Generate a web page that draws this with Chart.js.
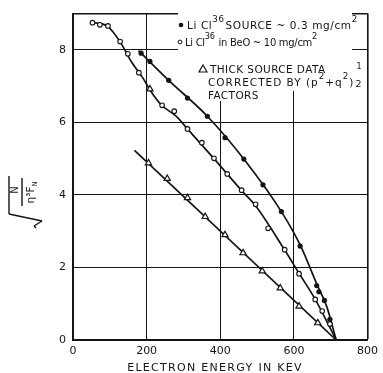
<!DOCTYPE html>
<html>
<head>
<meta charset="utf-8">
<script src="https://cdn.jsdelivr.net/npm/chart.js@4.4.0/dist/chart.umd.min.js"></script>
<style>
  html, body { margin: 0; padding: 0; background: #fff; }
  #wrap { width: 383px; height: 373px; position: relative; }
</style>
</head>
<body>
<div id="wrap"><canvas id="betaChart"></canvas></div>
<script>
// measured points: electron energy (keV) vs sqrt(N / eta^3 F)
const thinEnergy = [185, 209, 260, 311, 365, 413, 464, 516, 566, 617, 662, 668, 683, 698];
const thinValue  = [7.91, 7.68, 7.16, 6.67, 6.17, 5.58, 4.99, 4.28, 3.54, 2.59, 1.50, 1.33, 1.09, 0.57];

const beoEnergy = [53, 73, 95, 128, 149, 179, 242, 275, 311, 350, 383, 419, 458, 496, 530, 575, 614, 658, 677, 698];
const beoValue  = [8.75, 8.69, 8.66, 8.23, 7.89, 7.37, 6.47, 6.31, 5.82, 5.44, 5.01, 4.58, 4.13, 3.74, 3.08, 2.49, 1.83, 1.12, 0.80, 0.44];

const thickEnergy = [209, 205, 256, 311, 359, 413, 462, 514, 563, 614, 665];
const thickValue  = [6.92, 4.88, 4.45, 3.92, 3.40, 2.90, 2.40, 1.90, 1.43, 0.93, 0.47];

// hand drawn curves through the points
const thinCurveE  = [178, 260, 365, 464, 566, 617, 662, 690, 715];
const thinCurveV  = [7.98, 7.16, 6.17, 4.99, 3.54, 2.62, 1.55, 0.90, 0];
const beoCurveE   = [53, 95, 128, 160, 190, 210, 240, 280, 311, 383, 458, 496, 575, 614, 658, 715];
const beoCurveV   = [8.76, 8.64, 8.22, 7.65, 7.22, 6.88, 6.48, 6.17, 5.82, 5.00, 4.12, 3.70, 2.48, 1.84, 1.12, 0];
const thickCurveE = [167, 715];
const thickCurveV = [5.23, 0];

const xTicks = [0, 200, 400, 600, 800];
const yTicks = [0, 2, 4, 6, 8, 9];

const INK = '#141414';
const FONT = '"DejaVu Sans", sans-serif';

function pts(xs, ys) {
  return xs.map((x, i) => ({ x: x, y: ys[i] }));
}

function line(ctx, x1, y1, x2, y2) {
  ctx.beginPath();
  ctx.moveTo(x1, y1);
  ctx.lineTo(x2, y2);
  ctx.stroke();
}

// draw a row of text pieces, some of them raised (superscript)
function runs(ctx, parts, x, y, size, spacing) {
  ctx.letterSpacing = spacing + 'px';
  parts.forEach(p => {
    const s = p.sup ? size - 1.8 : size;
    ctx.font = s + 'px ' + FONT;
    ctx.fillText(p.t, x, p.sup ? y - 7 : y);
    x += ctx.measureText(p.t).width + (p.gap || 0);
  });
  return x;
}

const paperPlugin = {
  id: 'paper',
  beforeDatasetsDraw(chart) {
    // the legend sits on a clean patch of paper
    const ctx = chart.ctx;
    ctx.save();
    ctx.fillStyle = '#fff';
    ctx.fillRect(178, 11, 174, 80);
    ctx.fillRect(214, 91, 16, 10);
    ctx.restore();
  },
  afterDraw(chart) {
    const ctx = chart.ctx;
    ctx.save();
    ctx.fillStyle = INK;
    ctx.strokeStyle = INK;
    ctx.textBaseline = 'alphabetic';
    ctx.textAlign = 'left';

    // legend
    ctx.beginPath(); ctx.arc(181, 25, 2.3, 0, Math.PI * 2); ctx.fill();
    runs(ctx, [{ t: 'Li Cl' }, { t: '36', sup: true, gap: 1 }, { t: 'SOURCE ~ 0.3 mg/cm' }, { t: '2', sup: true }], 187, 29, 10.5, 0.6);

    ctx.lineWidth = 1;
    ctx.beginPath(); ctx.arc(180, 42, 1.9, 0, Math.PI * 2); ctx.stroke();
    runs(ctx, [{ t: 'Li Cl' }, { t: '36', sup: true, gap: 4 }, { t: 'in BeO ~ 10 mg/cm' }, { t: '2', sup: true }], 185, 46, 10, -0.3);

    ctx.lineWidth = 1.2;
    ctx.beginPath();
    ctx.moveTo(203, 65); ctx.lineTo(207, 72); ctx.lineTo(199, 72); ctx.closePath();
    ctx.stroke();
    runs(ctx, [{ t: 'THICK SOURCE DATA' }], 210, 73, 10.5, 0.4);
    const end = runs(ctx, [{ t: 'CORRECTED BY (p' }, { t: '2', sup: true }, { t: '+q' }, { t: '2', sup: true }, { t: ')' }], 208, 86, 10.5, 1.0);
    ctx.letterSpacing = '0px';
    ctx.font = '8px ' + FONT;
    ctx.fillText('1', end + 2, 69);
    ctx.font = '9.5px ' + FONT;
    ctx.fillText('2', end + 1, 87);
    runs(ctx, [{ t: 'FACTORS' }], 208, 99, 10.5, 0.4);

    // x axis title
    ctx.font = '11px ' + FONT;
    ctx.letterSpacing = '1.3px';
    ctx.textAlign = 'center';
    ctx.fillText('ELECTRON ENERGY IN KEV', 215, 371);

    // y axis title: sqrt(N / eta^3 F_N), written sideways
    ctx.letterSpacing = '0px';
    ctx.translate(28, 198);
    ctx.rotate(-Math.PI / 2);
    ctx.lineWidth = 1.4;
    ctx.font = '10px ' + FONT;
    ctx.fillText('N', 8, -10);
    line(ctx, -8, -6, 20, -6);
    ctx.font = '10.5px ' + FONT;
    ctx.fillText('\u03B7\u00B3F', 3, 6);
    ctx.font = '7px ' + FONT;
    ctx.fillText('N', 14, 9);
    line(ctx, -16, -19, 22, -19);
    line(ctx, -16, -19, -23, 14);
    line(ctx, -23, 14, -28, 6);
    line(ctx, -28, 6, -30, 8);
    ctx.restore();
  }
};

const chart = new Chart(document.getElementById('betaChart').getContext('2d'), {
  type: 'scatter',
  data: {
    datasets: [
      { label: 'LiCl36 source', data: pts(thinEnergy, thinValue), pointStyle: 'circle', pointRadius: 2.6, backgroundColor: INK, borderColor: INK, borderWidth: 0 },
      { label: 'LiCl36 in BeO', data: pts(beoEnergy, beoValue), pointStyle: 'circle', pointRadius: 2.3, backgroundColor: '#fff', borderColor: INK, borderWidth: 1.1 },
      { label: 'thick source', data: pts(thickEnergy, thickValue), pointStyle: 'triangle', pointRadius: 3.6, backgroundColor: '#fff', borderColor: INK, borderWidth: 1.2 },
      { data: pts(thinCurveE, thinCurveV), showLine: true, pointRadius: 0, borderColor: INK, borderWidth: 1.7, cubicInterpolationMode: 'monotone' },
      { data: pts(beoCurveE, beoCurveV), showLine: true, pointRadius: 0, borderColor: INK, borderWidth: 1.7, cubicInterpolationMode: 'monotone' },
      { data: pts(thickCurveE, thickCurveV), showLine: true, pointRadius: 0, borderColor: INK, borderWidth: 1.7 }
    ]
  },
  options: {
    responsive: true,
    maintainAspectRatio: false,
    animation: false,
    events: [],
    layout: { autoPadding: false, padding: { top: 10, right: 13, left: 0, bottom: 0 } },
    plugins: { legend: { display: false }, tooltip: { enabled: false } },
    scales: {
      x: {
        type: 'linear', min: 0, max: 800,
        afterBuildTicks: s => { s.ticks = xTicks.map(v => ({ value: v })); },
        afterFit: s => { s.height = 33; },
        ticks: { color: INK, font: { family: FONT, size: 11 }, padding: 5, maxRotation: 0 },
        grid: { color: INK, lineWidth: c => (c.tick && c.tick.value === 800 ? 1.6 : 1), drawTicks: false },
        border: { color: INK, width: 1.8 }
      },
      y: {
        type: 'linear', min: 0, max: 9,
        afterBuildTicks: s => { s.ticks = yTicks.map(v => ({ value: v })); },
        afterFit: s => { s.width = 73; },
        ticks: { color: INK, font: { family: FONT, size: 11 }, padding: 7, callback: v => (v === 9 ? '' : v) },
        grid: { color: INK, lineWidth: c => (c.tick && c.tick.value === 9 ? 1.6 : 1), drawTicks: false },
        border: { color: INK, width: 1.8 }
      }
    }
  },
  plugins: [paperPlugin]
});
</script>
</body>
</html>
